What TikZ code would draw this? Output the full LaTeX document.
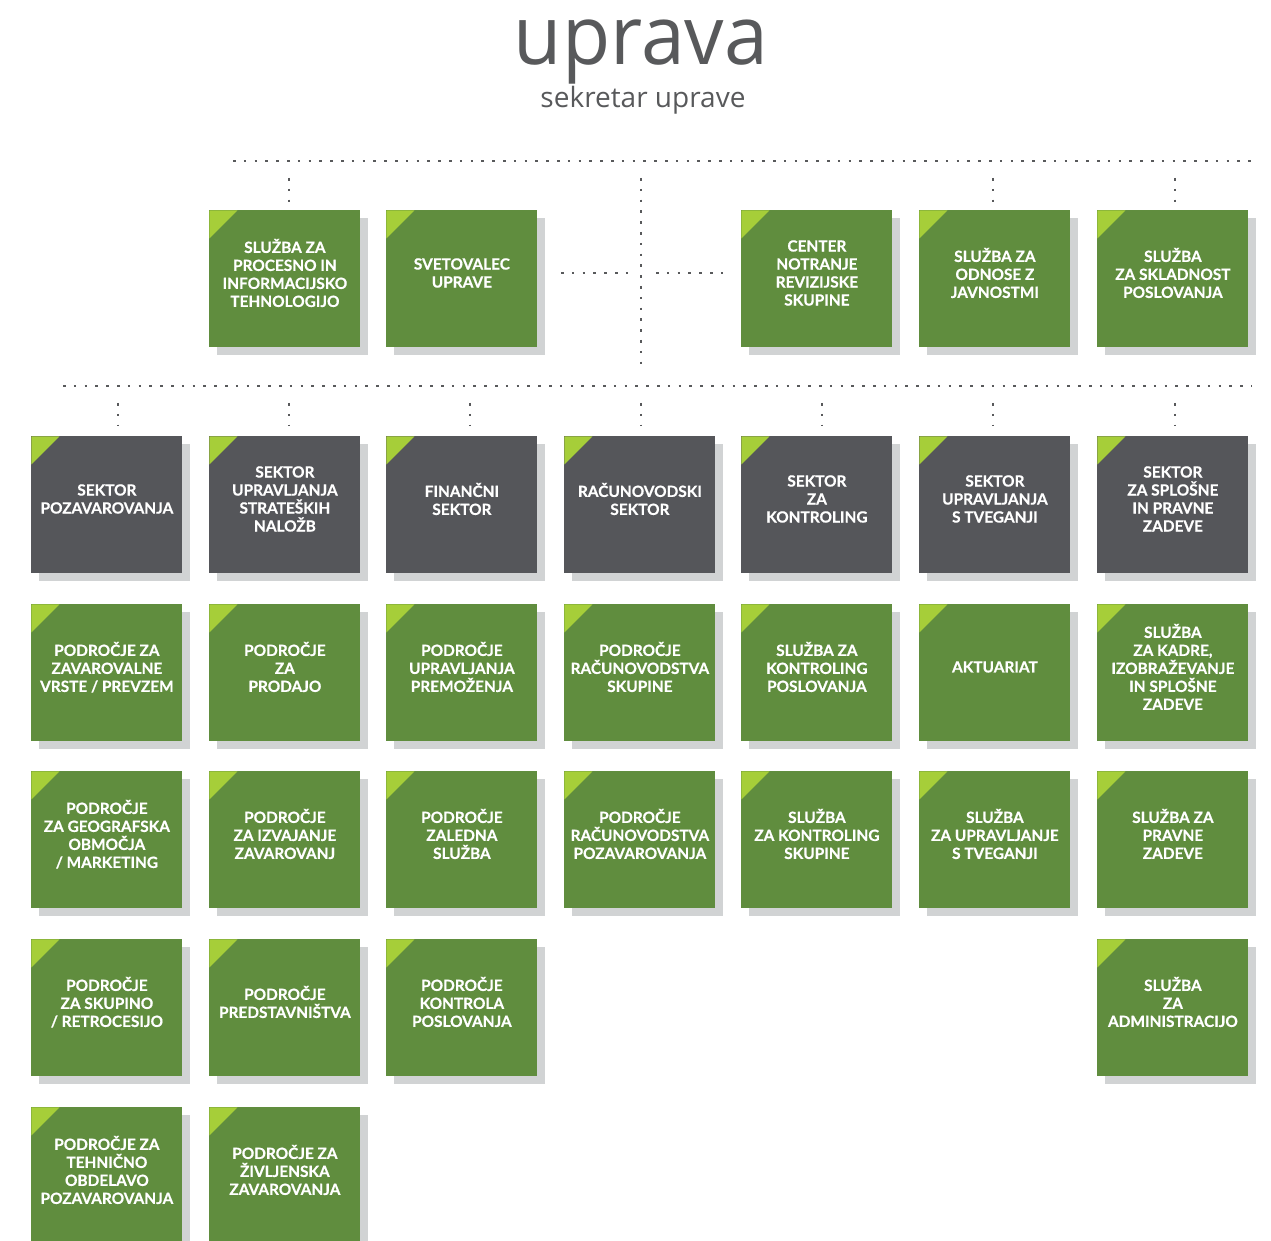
\documentclass[tikz,border=0pt]{standalone}
\usepackage{fontspec}
\setmainfont{Lato}[BoldFeatures={FakeBold=0.6}]
\newfontfamily\titlefont{Open Sans}
\usetikzlibrary{shadows}

\definecolor{boxgreen}{HTML}{608D3E}
\definecolor{boxdark}{HTML}{55565A}
\definecolor{cornergreen}{HTML}{A6CE39}
\definecolor{shadowgray}{HTML}{D1D3D4}
\definecolor{linegray}{HTML}{58595B}

\begin{document}
\begin{tikzpicture}[x=0.5pt, y=-0.5pt,
      unit/.style={anchor=north west, minimum width=75.5pt, minimum height=68.5pt,
        inner sep=2pt, align=center, text=white, text depth=6pt,
        font=\bfseries\fontsize{7.7}{9}\selectfont,
        drop shadow={shadow xshift=4pt, shadow yshift=-4pt, fill=shadowgray, opacity=1},
        path picture={\fill[cornergreen] (path picture bounding box.north west)
          -- ++(14pt,0) -- ++(-14pt,-14pt) -- cycle;}},
      greenbox/.style={unit, fill=boxgreen},
      darkbox/.style={unit, fill=boxdark},
      dotline/.style={linegray, line width=1.3pt, dash pattern=on 1.3pt off 4.1pt}]
    \path[use as bounding box, clip] (0,0) rectangle (1271,1241);

    % title
    \node[anchor=base, text=linegray, font=\titlefont\fontsize{41}{41}\selectfont]
      (uprava) at (641,65) {\scalebox{0.96}[1]{uprava}};
    \node[anchor=base, text=linegray, font=\titlefont\fontsize{14}{15}\selectfont]
      (sekretar) at (643,108) {sekretar uprave};

    % dotted connectors
    \coordinate (topl) at (233,161);
    \coordinate (topr) at (1252,161);
    \coordinate (spinetop) at (641,178);
    \coordinate (spinebot) at (641,372);
    \coordinate (sidel) at (561,273);
    \coordinate (sidelend) at (630,273);
    \coordinate (sider) at (656,273);
    \coordinate (siderend) at (724,273);
    \coordinate (lowl) at (63,386);
    \coordinate (lowr) at (1252,386);
    \draw[dotline] (topl) -- (topr);
    \draw[dotline] (spinetop) -- (spinebot);
    \draw[dotline] (sidel) -- (sidelend);
    \draw[dotline] (sider) -- (siderend);
    \draw[dotline] (lowl) -- (lowr);
    \foreach \xa in {289,993,1175}
      \draw[dotline] (\xa,178) coordinate (up\xa) -- (\xa,202) coordinate (upend\xa);
    \foreach \xb in {118,289,470,641,822,993,1175}
      \draw[dotline] (\xb,403) coordinate (dn\xb) -- (\xb,426) coordinate (dnend\xb);

    % services under the board
    \node[greenbox] (procit) at (209,210) {SLUŽBA ZA\\PROCESNO IN\\INFORMACIJSKO\\TEHNOLOGIJO};
    \node[greenbox] (svetovalec) at (386,210) {SVETOVALEC\\UPRAVE};
    \node[greenbox] (revizija) at (741,210) {CENTER\\NOTRANJE\\REVIZIJSKE\\SKUPINE};
    \node[greenbox] (javnost) at (919,210) {SLUŽBA ZA\\ODNOSE Z\\JAVNOSTMI};
    \node[greenbox] (skladnost) at (1097,210) {SLUŽBA\\ZA SKLADNOST\\POSLOVANJA};

    % sectors
    \node[darkbox] (pozav) at (31,436) {SEKTOR\\POZAVAROVANJA};
    \node[darkbox] (nalozbe) at (209,436) {SEKTOR\\UPRAVLJANJA\\STRATEŠKIH\\NALOŽB};
    \node[darkbox] (finance) at (386,436) {FINANČNI\\SEKTOR};
    \node[darkbox] (racun) at (564,436) {RAČUNOVODSKI\\SEKTOR};
    \node[darkbox] (kontrol) at (741,436) {SEKTOR\\ZA\\KONTROLING};
    \node[darkbox] (tveganja) at (919,436) {SEKTOR\\UPRAVLJANJA\\S TVEGANJI};
    \node[darkbox] (splosne) at (1097,436) {SEKTOR\\ZA SPLOŠNE\\IN PRAVNE\\ZADEVE};

    % departments, row 1
    \node[greenbox] (zavvrste) at (31,604) {PODROČJE ZA\\ZAVAROVALNE\\VRSTE / PREVZEM};
    \node[greenbox] (prodaja) at (209,604) {PODROČJE\\ZA\\PRODAJO};
    \node[greenbox] (premozenje) at (386,604) {PODROČJE\\UPRAVLJANJA\\PREMOŽENJA};
    \node[greenbox] (racskup) at (564,604) {PODROČJE\\RAČUNOVODSTVA\\SKUPINE};
    \node[greenbox] (kontpos) at (741,604) {SLUŽBA ZA\\KONTROLING\\POSLOVANJA};
    \node[greenbox] (aktuariat) at (919,604) {AKTUARIAT};
    \node[greenbox] (kadri) at (1097,604) {SLUŽBA\\ZA KADRE,\\IZOBRAŽEVANJE\\IN SPLOŠNE\\ZADEVE};

    % departments, row 2
    \node[greenbox] (geograf) at (31,771) {PODROČJE\\ZA GEOGRAFSKA\\OBMOČJA\\/ MARKETING};
    \node[greenbox] (izvajanje) at (209,771) {PODROČJE\\ZA IZVAJANJE\\ZAVAROVANJ};
    \node[greenbox] (zaledna) at (386,771) {PODROČJE\\ZALEDNA\\SLUŽBA};
    \node[greenbox] (racpozav) at (564,771) {PODROČJE\\RAČUNOVODSTVA\\POZAVAROVANJA};
    \node[greenbox] (kontskup) at (741,771) {SLUŽBA\\ZA KONTROLING\\SKUPINE};
    \node[greenbox] (slutveg) at (919,771) {SLUŽBA\\ZA UPRAVLJANJE\\S TVEGANJI};
    \node[greenbox] (pravne) at (1097,771) {SLUŽBA ZA\\PRAVNE\\ZADEVE};

    % departments, row 3
    \node[greenbox] (retro) at (31,939) {PODROČJE\\ZA SKUPINO\\/ RETROCESIJO};
    \node[greenbox] (predstav) at (209,939) {PODROČJE\\PREDSTAVNIŠTVA};
    \node[greenbox] (kontrola) at (386,939) {PODROČJE\\KONTROLA\\POSLOVANJA};
    \node[greenbox] (admin) at (1097,939) {SLUŽBA\\ZA\\ADMINISTRACIJO};

    % departments, row 4
    \node[greenbox] (tehnicno) at (31,1107) {PODROČJE ZA\\TEHNIČNO\\OBDELAVO\\POZAVAROVANJA};
    \node[greenbox] (zivljenje) at (209,1107) {PODROČJE ZA\\ŽIVLJENSKA\\ZAVAROVANJA};
  \end{tikzpicture}
\end{document}
